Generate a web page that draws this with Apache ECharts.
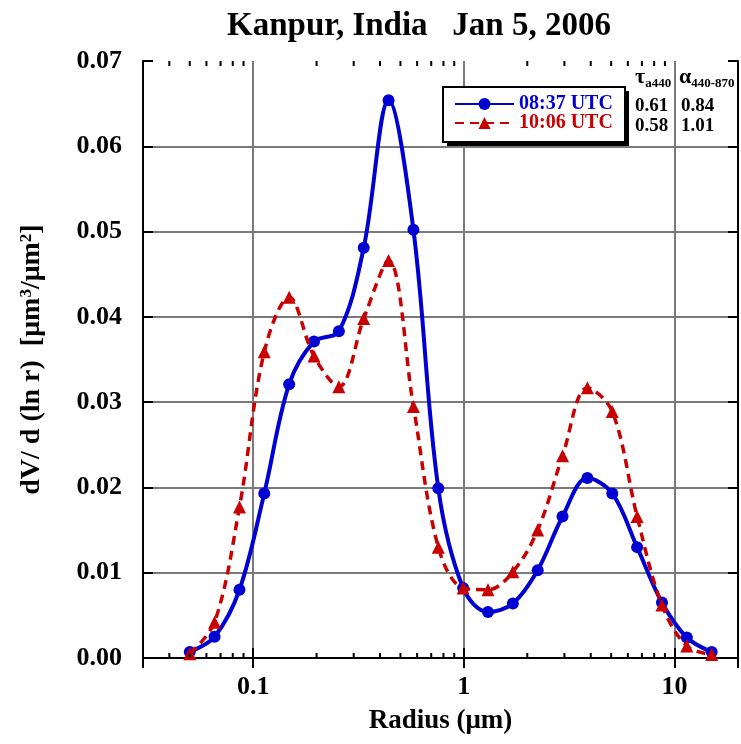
<!DOCTYPE html>
<html>
<head>
<meta charset="utf-8">
<script src="https://cdn.jsdelivr.net/npm/echarts@6/dist/echarts.min.js"></script>
<style>
  html, body { margin: 0; padding: 0; background: #fff; }
  #chart { width: 741px; height: 744px; }
</style>
</head>
<body>
<div id="chart"></div>
<script>
// radius bins (um)
const radius = [0.05, 0.0656, 0.0861, 0.1129, 0.1482, 0.1944, 0.2551, 0.3347, 0.4392, 0.5762, 0.7561,
  0.9920, 1.3016, 1.7078, 2.2407, 2.9400, 3.8575, 5.0613, 6.6407, 8.7131, 11.4323, 15.0];
// dV/dlnr
const utc0837 = [0.0007, 0.0025, 0.0080, 0.0193, 0.0321, 0.0371, 0.0383, 0.0481, 0.0654, 0.0502, 0.0199,
  0.0082, 0.0054, 0.0064, 0.0103, 0.0166, 0.0211, 0.0193, 0.0130, 0.0065, 0.0024, 0.0007];
const utc1006 = [0.0005, 0.0042, 0.0177, 0.0359, 0.0423, 0.0354, 0.0318, 0.0398, 0.0466, 0.0295, 0.0130,
  0.0082, 0.0080, 0.0101, 0.0150, 0.0237, 0.0317, 0.0289, 0.0166, 0.0062, 0.0014, 0.0004];
const seriesNames = ['08:37 UTC', '10:06 UTC'];
const tauA440 = ['0.61', '0.58'];
const alpha440870 = ['0.84', '1.01'];
const xMajorLabels = ['0.1', '1', '10'];
const xMinorTicks = [0.04, 0.05, 0.06, 0.07, 0.08, 0.09, 0.2, 0.3, 0.4, 0.5, 0.6, 0.7, 0.8, 0.9,
  2, 3, 4, 5, 6, 7, 8, 9];

const FONT = "'Liberation Serif', 'Times New Roman', serif";
const BLUE = '#0000d2';
const RED = '#c80000';

const chart = echarts.init(document.getElementById('chart'));

function xLabel(v) {
  const s = String(+v.toPrecision(6));
  return xMajorLabels.indexOf(s) >= 0 ? s : '';
}

const xBase = {
  type: 'log', logBase: 10, min: 0.03, max: 20,
  axisLine: { lineStyle: { color: '#000', width: 2 } },
  axisTick: { inside: true, length: 10, lineStyle: { color: '#000', width: 2 } },
  splitLine: { show: true, showMinLine: false, showMaxLine: false, lineStyle: { color: '#7a7a7a', width: 2 } },
  minorTick: { show: false }
};
const yBase = {
  type: 'value', min: 0, max: 0.07, interval: 0.01,
  axisLine: { show: true, lineStyle: { color: '#000', width: 2 } },
  axisTick: { show: true, inside: true, length: 10, lineStyle: { color: '#000', width: 2 } },
  splitLine: { show: true, showMinLine: false, showMaxLine: false, lineStyle: { color: '#7a7a7a', width: 2 } }
};

const option = {
  animation: false,
  backgroundColor: '#fff',
  grid: { left: 143, right: 2, top: 61, bottom: 86 },
  xAxis: [
    Object.assign({}, xBase, {
      position: 'bottom',
      name: 'Radius (μm)', nameLocation: 'middle', nameGap: 50,
      nameTextStyle: { fontFamily: FONT, fontWeight: 'bold', fontSize: 27, color: '#000' },
      axisLabel: { formatter: xLabel, margin: 16, fontFamily: FONT, fontWeight: 'bold', fontSize: 26, color: '#000' }
    }),
    Object.assign({}, xBase, { position: 'top', axisLabel: { show: false }, splitLine: { show: false } })
  ],
  yAxis: [
    Object.assign({}, yBase, {
      position: 'left',
      name: 'dV/ d (ln r)  [μm{sup|3}/μm{sup|2}]', nameLocation: 'middle', nameGap: 97,
      nameTextStyle: {
        fontFamily: FONT, fontWeight: 'bold', fontSize: 28, color: '#000',
        rich: { sup: { fontFamily: FONT, fontWeight: 'bold', fontSize: 17, color: '#000', verticalAlign: 'top' } }
      },
      axisLabel: { formatter: v => v.toFixed(2), margin: 21, fontFamily: FONT, fontWeight: 'bold', fontSize: 26, color: '#000' }
    }),
    Object.assign({}, yBase, { position: 'right', axisLabel: { show: false }, splitLine: { show: false } })
  ],
  legend: {
    orient: 'vertical', left: 443, top: 87, z: 20,
    padding: [7, 12, 9, 11], itemGap: -1, itemWidth: 59, itemHeight: 15,
    textStyle: { fontFamily: FONT, fontWeight: 'bold', fontSize: 20 },
    data: [
      { name: seriesNames[0], textStyle: { color: BLUE } },
      { name: seriesNames[1], textStyle: { color: RED } }
    ]
  },
  graphic: [
    // legend frame with hard drop shadow
    { type: 'rect', z: 15, shape: { x: 447, y: 91, width: 182, height: 55 }, style: { fill: '#000' } },
    { type: 'rect', z: 16, shape: { x: 443, y: 87, width: 182, height: 55 }, style: { fill: '#fff', stroke: '#000', lineWidth: 2 } },
    { type: 'text', x: 419, y: 26, z: 10, style: { text: 'Kanpur, India   Jan 5, 2006',
      align: 'center', verticalAlign: 'middle', font: 'bold 33px ' + FONT, fill: '#000' } },
    { type: 'text', x: 635, y: 65, z: 10, style: {
      text: '{g|τ}{s|a440}', rich: { g: { font: 'bold 22px ' + FONT, fill: '#000' },
        s: { font: 'bold 13px ' + FONT, fill: '#000', verticalAlign: 'bottom', padding: [12, 0, 0, 0] } } } },
    { type: 'text', x: 679, y: 65, z: 10, style: {
      text: '{g|α}{s|440-870}', rich: { g: { font: 'bold 22px ' + FONT, fill: '#000' },
        s: { font: 'bold 13px ' + FONT, fill: '#000', verticalAlign: 'bottom', padding: [12, 0, 0, 0] } } } },
    { type: 'text', x: 635, y: 96, z: 10, style: { text: tauA440.join('\n'), lineHeight: 20, font: 'bold 19px ' + FONT, fill: '#000' } },
    { type: 'text', x: 681, y: 96, z: 10, style: { text: alpha440870.join('\n'), lineHeight: 20, font: 'bold 19px ' + FONT, fill: '#000' } }
  ],
  series: [
    {
      name: seriesNames[0], type: 'line', smooth: 0.35,
      data: radius.map((r, i) => [r, utc0837[i]]),
      symbol: 'circle', symbolSize: 12,
      itemStyle: { color: BLUE },
      lineStyle: { color: BLUE, width: 4 },
      z: 3
    },
    {
      name: seriesNames[1], type: 'line', smooth: 0.35,
      data: radius.map((r, i) => [r, utc1006[i]]),
      symbol: 'triangle', symbolSize: 13,
      itemStyle: { color: RED },
      lineStyle: { color: RED, width: 3.5, type: [9, 6] },
      z: 4
    },
    {
      name: 'minor', type: 'custom', silent: true, z: 5,
      data: xMinorTicks.map(v => [v]),
      renderItem: (params, api) => {
        const v = api.value(0);
        const b = api.coord([v, 0]);
        const t = api.coord([v, 0.07]);
        return {
          type: 'group', children: [
            { type: 'line', shape: { x1: b[0], y1: b[1], x2: b[0], y2: b[1] - 5 }, style: { stroke: '#000', lineWidth: 2 } },
            { type: 'line', shape: { x1: t[0], y1: t[1], x2: t[0], y2: t[1] + 5 }, style: { stroke: '#000', lineWidth: 2 } }
          ]
        };
      }
    }
  ]
};

chart.setOption(option);
</script>
</body>
</html>
